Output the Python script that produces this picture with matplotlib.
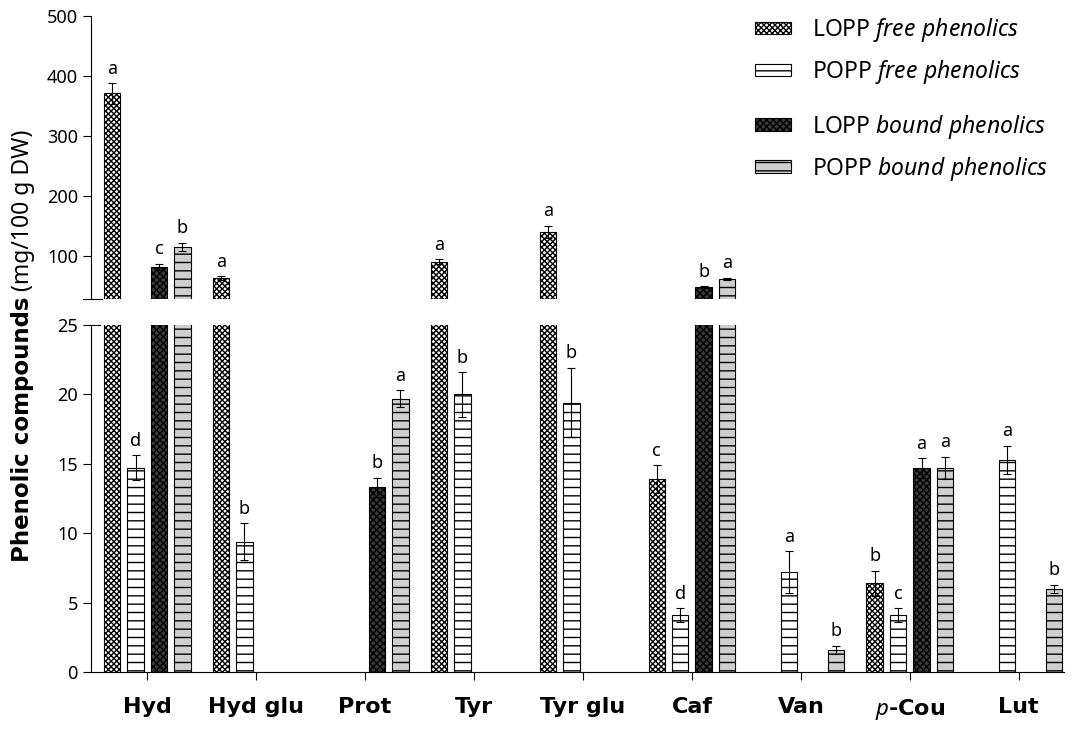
import numpy as np
import matplotlib
matplotlib.use("Agg")
import matplotlib.pyplot as plt

plt.rcParams['font.family'] = ['Noto Sans', 'DejaVu Sans']
plt.rcParams['mathtext.fontset'] = 'custom'
plt.rcParams['mathtext.rm'] = 'Noto Sans'
plt.rcParams['mathtext.it'] = 'Noto Sans:italic'
plt.rcParams['hatch.linewidth'] = 1.0

nan = np.nan

# 화합물 목록
categories = ['Hyd', 'Hyd glu', 'Prot', 'Tyr', 'Tyr glu', 'Caf', 'Van', r'$\it{p}$-Cou', 'Lut']

# LOPP free phenolics
lopp_free = [371, 63, nan, 90, 140, 13.9, nan, 6.4, nan]
lopp_free_err = [17, 3, nan, 4, 10, 1.0, nan, 0.9, nan]
lopp_free_sig = ['a', 'a', '', 'a', 'a', 'c', '', 'b', '']

# POPP free phenolics
popp_free = [14.7, 9.4, nan, 20.0, 19.4, 4.1, 7.2, 4.1, 15.3]
popp_free_err = [0.9, 1.3, nan, 1.6, 2.5, 0.5, 1.5, 0.5, 1.0]
popp_free_sig = ['d', 'b', '', 'b', 'b', 'd', 'a', 'c', 'a']

# LOPP bound phenolics
lopp_bound = [82, nan, 13.3, nan, nan, 48, nan, 14.7, nan]
lopp_bound_err = [5, nan, 0.7, nan, nan, 1.5, nan, 0.7, nan]
lopp_bound_sig = ['c', '', 'b', '', '', 'b', '', 'a', '']

# POPP bound phenolics
popp_bound = [115, nan, 19.7, nan, nan, 61, 1.6, 14.7, 6.0]
popp_bound_err = [7, nan, 0.6, nan, nan, 2, 0.3, 0.8, 0.3]
popp_bound_sig = ['b', '', 'a', '', '', 'a', 'b', 'a', 'b']

series = [
    (lopp_free, lopp_free_err, lopp_free_sig,
     dict(facecolor='white', hatch='xxxxxx'), r'LOPP $\it{free\ phenolics}$'),
    (popp_free, popp_free_err, popp_free_sig,
     dict(facecolor='white', hatch='--'), r'POPP $\it{free\ phenolics}$'),
    (lopp_bound, lopp_bound_err, lopp_bound_sig,
     dict(facecolor='#3a3a3a', hatch='xxxxx'), r'LOPP $\it{bound\ phenolics}$'),
    (popp_bound, popp_bound_err, popp_bound_sig,
     dict(facecolor='#cfcfcf', hatch='--'), r'POPP $\it{bound\ phenolics}$'),
]

fig = plt.figure(figsize=(10.72, 7.31), dpi=100)
ax_top = fig.add_axes([0.085, 0.591, 0.908, 0.387])
ax_bot = fig.add_axes([0.085, 0.0807, 0.908, 0.4747])

x = np.arange(len(categories))
step = 0.215
width = 0.152
handles = []

for i, (vals, errs, sigs, style, label) in enumerate(series):
    vals = np.array(vals, dtype=float)
    errs = np.array(errs, dtype=float)
    ok = ~np.isnan(vals)
    xs = x[ok] + (i - 1.5) * step
    for ax in (ax_top, ax_bot):
        b = ax.bar(xs, vals[ok], width, edgecolor='black', linewidth=0.8, **style)
        ax.errorbar(xs, vals[ok], yerr=errs[ok], fmt='none', ecolor='black',
                    elinewidth=0.8, capsize=3, capthick=0.8)
    handles.append((b, label))
    # 유의성 문자
    for xi, v, e, s in zip(xs, vals[ok], errs[ok], np.array(sigs)[ok]):
        ax = ax_bot if v <= 25 else ax_top
        ax.annotate(s, (xi, v + e), xytext=(0, 4), textcoords='offset points',
                    ha='center', va='bottom', fontsize=13)

xlim = (-0.515, 8.42)
for ax in (ax_top, ax_bot):
    ax.set_xlim(*xlim)
    ax.spines['top'].set_visible(False)
    ax.spines['right'].set_visible(False)
    ax.tick_params(axis='y', direction='out', length=6, width=0.8, labelsize=13)
    ax.spines['left'].set_linewidth(0.8)

ax_top.set_ylim(28, 500)
ax_top.set_yticks([100, 200, 300, 400, 500])
ax_top.spines['bottom'].set_visible(False)
ax_top.set_xticks([])
ax_top.plot([-0.008, 0.011], [0, 0], transform=ax_top.transAxes, color='black',
            lw=0.8, clip_on=False)

ax_bot.set_ylim(0, 25)
ax_bot.set_yticks([0, 5, 10, 15, 20, 25])
ax_bot.spines['bottom'].set_linewidth(0.8)
ax_bot.set_xticks(x)
ax_bot.set_xticklabels(categories, fontsize=16, fontweight='bold',
                       family='DejaVu Sans')
ax_bot.tick_params(axis='x', direction='out', length=6, width=0.8, pad=12)
ax_bot.plot([0, 0.009], [1, 1], transform=ax_bot.transAxes, color='black',
            lw=0.8, clip_on=False)

# y축 제목 (굵은 부분 + 단위)
fig.text(0.021, 0.231, 'Phenolic compounds', rotation=90, fontsize=16.5,
         fontweight='bold', family='DejaVu Sans', ha='center', va='bottom')
fig.text(0.021, 0.602, '(mg/100 g DW)', rotation=90, fontsize=16.5,
         ha='center', va='bottom')

leg_kw = dict(frameon=False, fontsize=16.5, handlelength=1.6, handleheight=0.45,
              handletextpad=0.9, labelspacing=0.62, borderpad=0, borderaxespad=0,
              loc='upper left', bbox_transform=fig.transFigure)
leg1 = ax_top.legend([h[0] for h in handles[:2]], [h[1] for h in handles[:2]],
                     bbox_to_anchor=(0.704, 0.978), **leg_kw)
ax_top.add_artist(leg1)
ax_top.legend([h[0] for h in handles[2:]], [h[1] for h in handles[2:]],
              bbox_to_anchor=(0.704, 0.846), **leg_kw)

fig.savefig('out.png', dpi=100)
